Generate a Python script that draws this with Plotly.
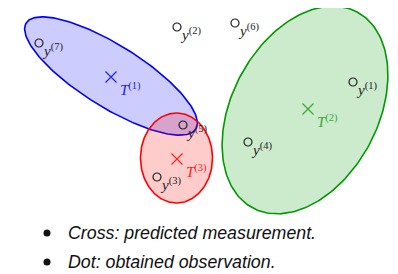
import numpy as np
import plotly.graph_objects as go

# Observations (pixel-like plane coordinates, y grows downward)
obs_names = ["1", "2", "3", "4", "5", "6", "7"]
obs_x = [353, 177, 157, 248, 183, 235, 39]
obs_y = [82, 27, 177, 142, 125, 23, 43]

# Predicted measurements (tracks)
trk_names = ["1", "2", "3"]
trk_x = [111, 308, 177]
trk_y = [77, 109, 159]
trk_colors = ["#0000ff", "#009900", "#ff0000"]
trk_label_colors = ["#2222ee", "#33aa33", "#ff2222"]
trk_fills = ["rgba(0,0,255,0.2)", "rgba(0,153,0,0.2)", "rgba(255,0,0,0.2)"]

# Gate ellipses: semi-axes and rotation (deg)
ell_cx = [111, 305, 176.5]
ell_cy = [76, 110, 158]
ell_a = [100, 111, 36]
ell_b = [31, 73, 45]
ell_ang = [32, -62, 0]

bullets = ["Cross: predicted measurement.", "Dot: obtained observation."]

OFF = 8  # page body margin

fig = go.Figure()
t = np.linspace(0, 2 * np.pi, 200)
for i in range(3):
    th = np.deg2rad(ell_ang[i])
    ex = ell_a[i] * np.cos(t)
    ey = ell_b[i] * np.sin(t)
    xs = ell_cx[i] + ex * np.cos(th) - ey * np.sin(th)
    ys = ell_cy[i] + ex * np.sin(th) + ey * np.cos(th)
    fig.add_trace(go.Scatter(x=xs, y=ys, mode="lines", fill="toself",
                             fillcolor=trk_fills[i],
                             line=dict(color=trk_colors[i], width=1.6),
                             hoverinfo="skip", showlegend=False))

fig.add_trace(go.Scatter(x=obs_x, y=obs_y, mode="markers",
                         marker=dict(symbol="circle-open", size=8,
                                     color="#222222", line=dict(width=1.2)),
                         showlegend=False))
fig.add_trace(go.Scatter(x=trk_x, y=trk_y, mode="markers",
                         marker=dict(symbol="x-thin-open", size=11,
                                     color=trk_label_colors,
                                     line=dict(width=1.2, color=trk_label_colors)),
                         showlegend=False))

ann = []
for n, x, y in zip(obs_names, obs_x, obs_y):
    ann.append(dict(x=x + 1, y=y + 7, xanchor="left", yanchor="middle",
                    text=f"<i>y</i><sup>({n})</sup>", showarrow=False,
                    font=dict(family="Liberation Serif", size=15, color="#222222")))
for n, x, y, c in zip(trk_names, trk_x, trk_y, trk_label_colors):
    ann.append(dict(x=x + 7, y=y + 12, xanchor="left", yanchor="middle",
                    text=f"<i>T</i><sup>({n})</sup>", showarrow=False,
                    font=dict(family="Liberation Serif", size=15, color=c)))

bullet_y = [233, 262]
for txt, by in zip(bullets, bullet_y):
    ann.append(dict(x=66, y=by, xanchor="left", yanchor="middle",
                    text=f"<i>{txt}</i>", showarrow=False,
                    font=dict(family="Liberation Sans", size=17.8, color="#111111")))

fig.add_trace(go.Scatter(x=[47, 47], y=bullet_y, mode="markers",
                         marker=dict(symbol="circle", size=7, color="#111111"),
                         showlegend=False, hoverinfo="skip"))

fig.update_layout(
    width=398 - OFF, height=274 - OFF, margin=dict(l=0, r=0, t=0, b=0),
    paper_bgcolor="white", plot_bgcolor="white",
    xaxis=dict(range=[OFF, 398], visible=False, fixedrange=True),
    yaxis=dict(range=[274, OFF], visible=False, fixedrange=True),
    annotations=ann, showlegend=False,
)
fig.write_html("out.html")
